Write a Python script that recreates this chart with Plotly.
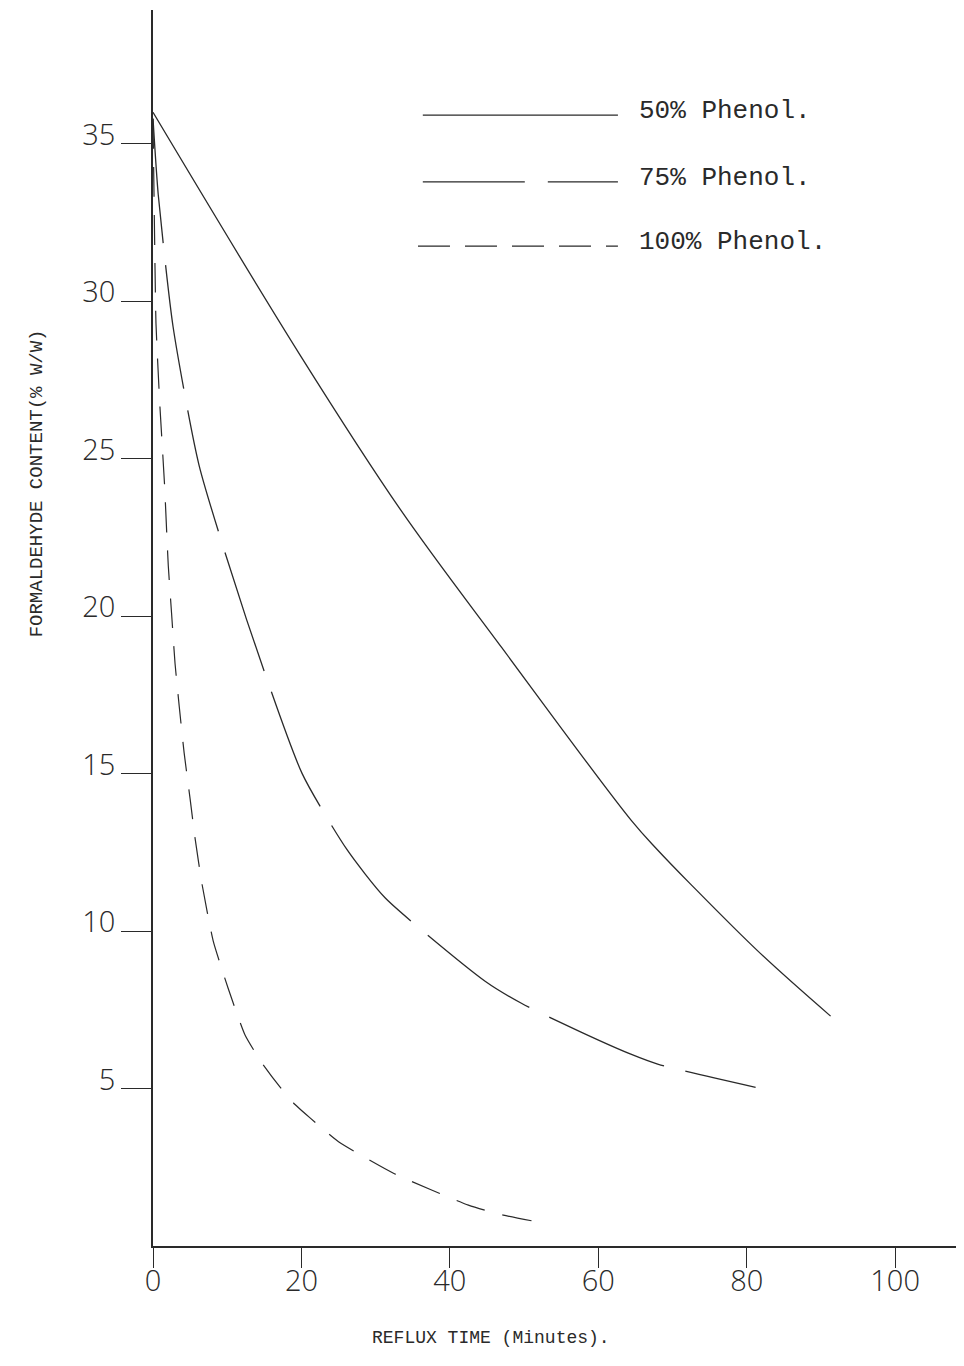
# Formaldehyde content vs reflux time for three phenol levels
import plotly.graph_objects as go

# Reflux time (minutes) and formaldehyde content (% w/w)
time_50 = [0, 19.8, 33.3, 47.0, 64.5, 67.9, 72.4, 81.8, 91.3]
form_50 = [36.0, 28.3, 23.4, 19.0, 13.5, 12.6, 11.5, 9.3, 7.3]

time_75 = [0, 0.7, 2.7, 6.2, 12.6, 20.1, 26.1, 31.3, 44.8, 49.7, 57.6, 64.3, 68.1, 81.2]
form_75 = [35.8, 33.4, 29.2, 24.8, 19.9, 15.0, 12.6, 11.05, 8.4, 7.7, 6.8, 6.1, 5.77, 5.04]

time_100 = [0, 0.27, 0.4, 0.9, 1.55, 2.06, 2.5, 2.97, 3.55, 4.2, 5.0, 5.66, 6.6, 8.1, 10.1,
            12.4, 14.65, 17.1, 19.1, 21.2, 25.0, 32.4, 42.5, 47.2, 53.3]
form_100 = [35.8, 31.1, 29.3, 26.8, 24.2, 21.6, 20.1, 18.5, 17.1, 15.65, 14.2, 12.96, 11.5, 9.7, 8.2,
            6.7, 5.82, 5.05, 4.5, 4.06, 3.31, 2.31, 1.3, 0.98, 0.7]

x_ticks = [0, 20, 40, 60, 80, 100]
y_ticks = [5, 10, 15, 20, 25, 30, 35]

labels = ['50% Phenol.', '75% Phenol.', '100% Phenol.']
dashes = ['solid', '125px,22px', '30px,18px']
legend_dashes = ['solid', '102px,23px', '32px,15px']

ink = '#2a2a2a'
typewriter = 'Liberation Mono'
lettering = 'Open Sans'

fig = go.Figure()
fig.add_trace(go.Scatter(x=time_50, y=form_50, mode='lines', name=labels[0],
                         line=dict(color=ink, width=1.3, dash=dashes[0], shape='spline', smoothing=1.0)))
fig.add_trace(go.Scatter(x=time_75, y=form_75, mode='lines', name=labels[1],
                         line=dict(color=ink, width=1.3, dash=dashes[1], shape='spline', smoothing=0.6)))
fig.add_trace(go.Scatter(x=time_100, y=form_100, mode='lines', name=labels[2],
                         line=dict(color=ink, width=1.2, dash=dashes[2], shape='spline', smoothing=0.5)))

# hand drawn style key in the top of the plot
key_rows = [0.915, 0.861, 0.809]
for i in range(3):
    fig.add_shape(type='line', xref='paper', yref='paper',
                  x0=0.336 if i < 2 else 0.330, x1=0.579, y0=key_rows[i], y1=key_rows[i],
                  line=dict(color=ink, width=1.2, dash=legend_dashes[i]))
    fig.add_annotation(xref='paper', yref='paper', x=0.603, y=key_rows[i] + 0.003,
                       text=labels[i], showarrow=False, xanchor='left', yanchor='middle',
                       font=dict(family=typewriter, size=26, color=ink))

# axis titles
fig.add_annotation(xref='paper', yref='paper', x=-0.1445, y=0.617, textangle=-90,
                   xanchor='center', yanchor='middle',
                   text='FORMALDEHYDE CONTENT(% W/W)', showarrow=False,
                   font=dict(family=typewriter, size=19, color=ink))
fig.add_annotation(xref='paper', yref='paper', x=0.421, y=-0.0744,
                   xanchor='center', yanchor='middle',
                   text='REFLUX TIME (Minutes).', showarrow=False,
                   font=dict(family=typewriter, size=18, color=ink))

fig.update_xaxes(range=[0, 108.2], tickvals=x_ticks, ticks='outside', ticklen=20, tickwidth=1,
                 tickcolor=ink, showline=True, linecolor=ink, linewidth=1.8,
                 showgrid=False, zeroline=False, ticklabelstandoff=-12,
                 tickfont=dict(family=lettering, size=29, color=ink, weight=300))
fig.update_yaxes(range=[0, 39.25], tickvals=y_ticks, ticks='outside', ticklen=30, tickwidth=1,
                 tickcolor=ink, showline=True, linecolor=ink, linewidth=1.8,
                 showgrid=False, zeroline=False, ticklabelshift=-9,
                 tickfont=dict(family=lettering, size=29, color=ink, weight=300))

# page body adds 8px around the figure, so keep it inside the window
fig.update_layout(width=948, height=1350, showlegend=False,
                  margin=dict(l=145, r=0, t=2, b=112),
                  paper_bgcolor='white', plot_bgcolor='white')

fig.write_html("out.html")
